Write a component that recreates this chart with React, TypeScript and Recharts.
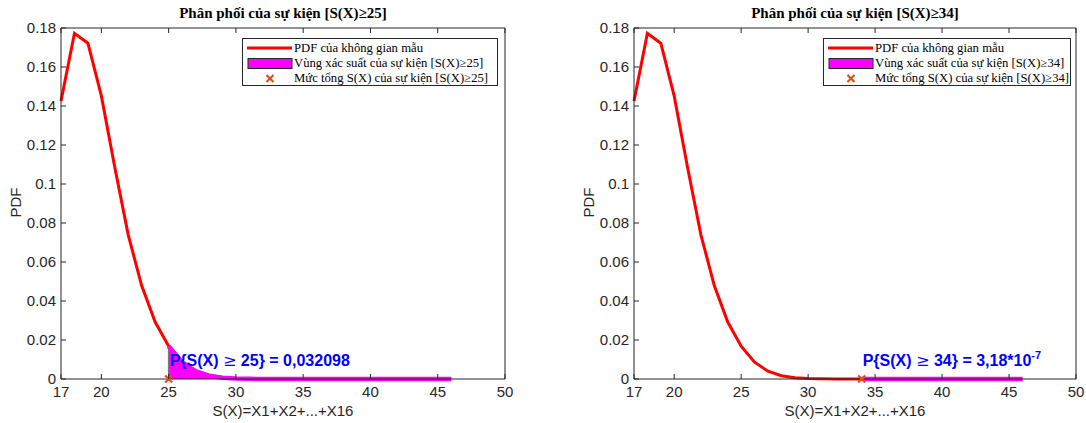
import { ComposedChart, Line, Area, Scatter, XAxis, YAxis, ReferenceLine, ReferenceDot } from 'recharts';

// tổng S(X) và giá trị PDF
const sums = [17, 18, 19, 20, 21, 22, 23, 24, 25, 26, 27, 28, 29, 30, 31, 32, 33, 34, 35, 36, 37, 38, 39, 40, 41, 42, 43, 44, 45, 46];
const pdfValues = [
    0.1425, 0.1773, 0.1722, 0.1452, 0.1085, 0.0738, 0.0478, 0.0292, 0.0168, 0.0086,
    0.0040, 0.0017, 0.00065, 0.00022, 0.00007, 0.00002, 0.000005, 0.0000012, 0.00000025, 0.00000005,
    0.00000001, 0.000000002, 0.0000000003, 0.00000000005, 0.000000000007, 0.000000000001, 0.0000000000001, 0.00000000000001, 0.000000000000001, 0.0000000000000001
];
const xTicks = [17, 20, 25, 30, 35, 40, 45, 50];
const yTicks = [0, 0.02, 0.04, 0.06, 0.08, 0.1, 0.12, 0.14, 0.16, 0.18];

const thresholds = [25, 34];
const probMantissas = ['0,032098', '3,18*10'];
const probExponents = ['', '-7'];

const axisColor = '#262626';
const sansFont = '"Liberation Sans", Arial, sans-serif';
const serifFont = '"Liberation Serif", "Times New Roman", serif';
const tickLen = 5;

function BottomTick(p: any) {
    return <g>
        <line x1={p.x} y1={p.y} x2={p.x} y2={p.y - tickLen} stroke={axisColor} />
        <text x={p.x} y={p.y + 18} textAnchor="middle" fontSize={15} fontFamily={sansFont} fill={axisColor}>{p.payload.value}</text>
    </g>
}

function TopTick(p: any) {
    return <line x1={p.x} y1={p.y} x2={p.x} y2={p.y + tickLen} stroke={axisColor} />
}

function LeftTick(p: any) {
    return <g>
        <line x1={p.x} y1={p.y} x2={p.x + tickLen} y2={p.y} stroke={axisColor} />
        <text x={p.x - 5} y={p.y + 5} textAnchor="end" fontSize={15} fontFamily={sansFont} fill={axisColor}>{String(+Number(p.payload.value).toFixed(2))}</text>
    </g>
}

function RightTick(p: any) {
    return <line x1={p.x} y1={p.y} x2={p.x - tickLen} y2={p.y} stroke={axisColor} />
}

function CrossMarker(p: any) {
    const s = 3.5;
    return <g stroke="#D95319" strokeWidth={2.2}>
        <line x1={p.cx - s} y1={p.cy - s} x2={p.cx + s} y2={p.cy + s} />
        <line x1={p.cx - s} y1={p.cy + s} x2={p.cx + s} y2={p.cy - s} />
    </g>
}

function Panel(props: any) {
    const { threshold, mantissa, exponent, left, marginLeft, marginRight, legendLeft, legendWidth } = props;
    const rows = sums.map((s, i) => ({ s: s, pdf: pdfValues[i], tail: s >= threshold ? pdfValues[i] : null }));
    const thresholdPdf = pdfValues[sums.indexOf(threshold)];
    const plotLeft = marginLeft + 40;
    const plotRight = 543 - marginRight - 10;
    const center = (plotLeft + plotRight) / 2;
    const rowStyle = { display: 'flex', alignItems: 'center', height: 15, whiteSpace: 'nowrap' as const };

    return <div style={{ position: 'absolute', left: left, top: 0, width: 543, height: 423 }}>
        <ComposedChart width={543} height={423} data={rows} margin={{ top: 18, right: marginRight, bottom: 14, left: marginLeft }}>
            <XAxis xAxisId="b" dataKey="s" type="number" domain={[17, 50]} ticks={xTicks} interval={0}
                tick={BottomTick} tickLine={false} tickSize={0} tickMargin={0} height={30} axisLine={{ stroke: axisColor }} />
            <XAxis xAxisId="t" orientation="top" dataKey="s" type="number" domain={[17, 50]} ticks={xTicks} interval={0}
                tick={TopTick} tickLine={false} tickSize={0} tickMargin={0} height={10} axisLine={{ stroke: axisColor }} />
            <YAxis yAxisId="l" type="number" domain={[0, 0.18]} ticks={yTicks} interval={0}
                tick={LeftTick} tickLine={false} tickSize={0} tickMargin={0} width={40} axisLine={{ stroke: axisColor }} />
            <YAxis yAxisId="r" orientation="right" type="number" domain={[0, 0.18]} ticks={yTicks} interval={0}
                tick={RightTick} tickLine={false} tickSize={0} tickMargin={0} width={10} axisLine={{ stroke: axisColor }} />
            <Line xAxisId="b" yAxisId="l" dataKey="pdf" stroke="#FF0000" strokeWidth={3} dot={false} isAnimationActive={false} />
            <Area xAxisId="b" yAxisId="l" dataKey="tail" fill="#FF00FF" fillOpacity={1} stroke="none" isAnimationActive={false} />
            <ReferenceLine xAxisId="b" yAxisId="l" segment={[{ x: threshold, y: 0 }, { x: threshold, y: thresholdPdf }]} stroke="#777" strokeWidth={1.5} />
            <Line xAxisId="b" yAxisId="l" dataKey="tail" stroke="#FF00FF" strokeWidth={4.5} dot={false} isAnimationActive={false} />
            <Scatter xAxisId="b" yAxisId="l" data={[{ s: threshold, mark: 0 }]} dataKey="mark" shape={CrossMarker} isAnimationActive={false} />
            <ReferenceDot xAxisId="b" yAxisId="l" x={threshold} y={0.0067} r={0} shape={(p: any) =>
                <text x={p.cx + 1} y={p.cy} fontSize={16} fontWeight="bold" fontFamily={sansFont} fill="#0000FF">
                    P{'{'}S(X) <tspan fontFamily='"DejaVu Serif", serif' fontWeight="normal">≥</tspan> {threshold}{'}'} = {mantissa}
                    {exponent ? <tspan dy={-7} fontSize={11}>{exponent}</tspan> : null}
                </text>} />
        </ComposedChart>

        <div style={{ position: 'absolute', left: 0, width: 2 * center, top: 5, textAlign: 'center', fontFamily: serifFont, fontWeight: 'bold', fontSize: 15, color: '#000', whiteSpace: 'nowrap' }}>
            Phân phối của sự kiện [S(X)≥{threshold}]
        </div>
        <div style={{ position: 'absolute', left: 0, width: 2 * center, top: 402, textAlign: 'center', fontFamily: sansFont, fontSize: 15, color: axisColor, whiteSpace: 'nowrap' }}>
            S(X)=X1+X2+...+X16
        </div>
        <div style={{ position: 'absolute', left: plotLeft - 46 - 30, width: 60, top: 194, textAlign: 'center', fontFamily: sansFont, fontSize: 15, color: axisColor, transform: 'rotate(-90deg)' }}>
            PDF
        </div>

        <div style={{ position: 'absolute', left: legendLeft, top: 38, width: legendWidth, height: 48, border: '1px solid ' + axisColor, background: '#fff', fontFamily: serifFont, fontSize: 12.7, color: '#000', boxSizing: 'border-box', paddingTop: 1, overflow: 'visible' }}>
            <div style={{ ...rowStyle, height: 16 }}>
                <svg width={51} height={16} style={{ flexShrink: 0 }}><line x1={4} y1={8} x2={49} y2={8} stroke="#FF0000" strokeWidth={3} /></svg>
                <span>PDF của không gian mẫu</span>
            </div>
            <div style={rowStyle}>
                <svg width={51} height={15} style={{ flexShrink: 0 }}><rect x={5} y={2.5} width={44} height={10} fill="#FF00FF" stroke={axisColor} strokeWidth={1} /></svg>
                <span>Vùng xác suất của sự kiện [S(X)≥{threshold}]</span>
            </div>
            <div style={rowStyle}>
                <svg width={51} height={15} style={{ flexShrink: 0 }}><CrossMarker cx={27} cy={7.5} /></svg>
                <span>Mức tổng S(X) của sự kiện [S(X)≥{threshold}]</span>
            </div>
        </div>
    </div>
}

export default function App() {
    return <div style={{ position: 'absolute', left: 0, top: 0, width: 1086, height: 423, background: '#fff' }}>
        <Panel threshold={thresholds[0]} mantissa={probMantissas[0]} exponent={probExponents[0]} left={0}
            marginLeft={21} marginRight={28} legendLeft={242} legendWidth={256} />
        <Panel threshold={thresholds[1]} mantissa={probMantissas[1]} exponent={probExponents[1]} left={543}
            marginLeft={51} marginRight={0} legendLeft={280} legendWidth={248} />
    </div>
}
